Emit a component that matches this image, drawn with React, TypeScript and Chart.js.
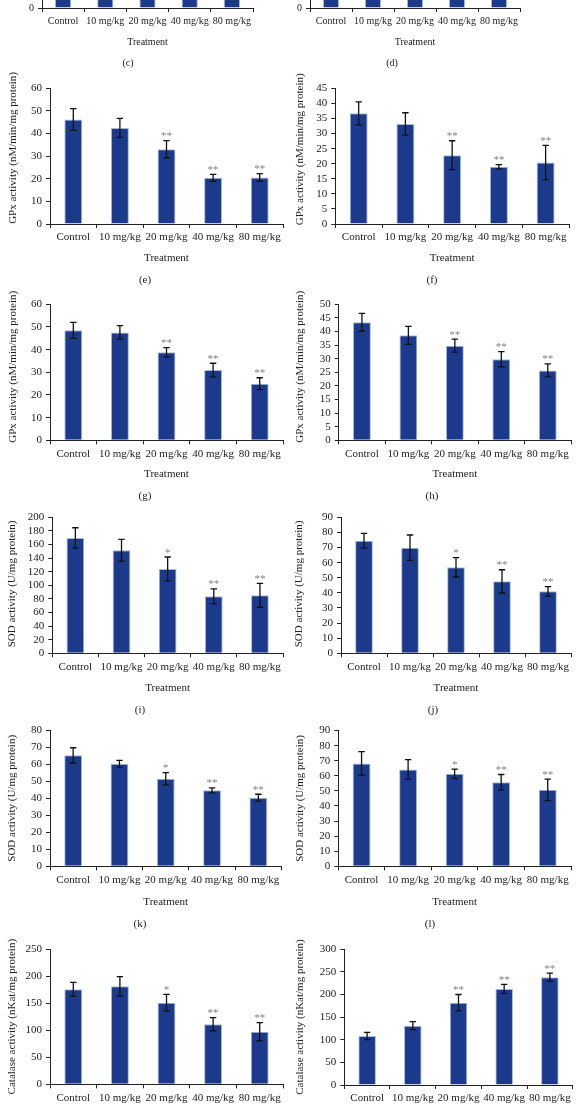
import React, { useEffect, useRef } from 'react';
import { Chart, registerables } from 'chart.js';

Chart.register(...registerables);

// ---------- data ----------
const categories = ['Control', '10 mg/kg', '20 mg/kg', '40 mg/kg', '80 mg/kg'];

// (c), (d): only the bottom stubs are visible in the reference
const cValues = [42, 40, 33, 26, 24];
const cErrors = [3, 3, 3, 2, 2];
const dValues = [38, 35, 30, 25, 22];
const dErrors = [3, 3, 3, 2, 2];

const eValues = [46.2, 42.5, 33.1, 20.4, 20.6];
const eErrors = [4.8, 4.2, 3.8, 1.5, 1.7];
const eStars = ['', '', '**', '**', '**'];

const fValues = [36.7, 33.2, 22.8, 19.0, 20.4];
const fErrors = [3.8, 3.7, 4.8, 0.7, 5.7];
const fStars = ['', '', '**', '**', '**'];

const gValues = [48.5, 47.6, 38.8, 31.0, 25.0];
const gErrors = [3.5, 3.0, 2.1, 3.0, 2.6];
const gStars = ['', '', '**', '**', '**'];

const hValues = [43.4, 38.6, 34.8, 29.8, 25.7];
const hErrors = [3.3, 3.3, 2.4, 2.8, 2.4];
const hStars = ['', '', '**', '**', '**'];

const iValues = [169.6, 151.5, 124.0, 83.8, 85.3];
const iErrors = [15, 16, 17.6, 10.8, 17.6];
const iStars = ['', '', '*', '**', '**'];

const jValues = [74.5, 69.9, 56.9, 47.6, 41.0];
const jErrors = [4.9, 8.4, 6.4, 7.7, 3.1];
const jStars = ['', '', '*', '**', '**'];

const kValues = [65.3, 60.4, 51.5, 44.7, 40.4];
const kErrors = [4.5, 2.0, 3.6, 1.5, 2.0];
const kStars = ['', '', '*', '**', '**'];

const lValues = [68.2, 64.2, 61.3, 55.8, 50.7];
const lErrors = [7.9, 6.6, 3.1, 5.1, 7.1];
const lStars = ['', '', '*', '**', '**'];

const mValues = [175.5, 181.1, 150.8, 110.9, 97.2];
const mErrors = [13, 17.8, 15.5, 12.2, 16.7];
const mStars = ['', '', '*', '**', '**'];

const nValues = [108.1, 130.8, 181.6, 212, 237.9];
const nErrors = [8, 8.8, 18, 10, 8.8];
const nStars = ['', '', '**', '**', '**'];

const noStars = ['', '', '', '', ''];

const GPX_LABEL = 'GPx activity (nM/min/mg protein)';
const SOD_LABEL = 'SOD activity (U/mg protein)';
const CAT_LABEL = 'Catalase activity (nKat/mg protein)';
const X_TITLE = 'Treatment';

// ---------- styles ----------
const FONT = "'Liberation Serif', 'Times New Roman', serif";
const FS = 11;
const INK = '#222222';
const BAR = '#1b3a8b';
const BAR_EDGE = '#a8b8dc';
const STAR = '#7f7f7f';

// ---------- panels (layout kept separate from values) ----------
// lift: number of non-breaking spaces used to nudge the rotated y title upward
const panels = [
  { id: 'c', values: cValues, errors: cErrors, stars: noStars, max: 50, step: 10, yTitle: '', fs: 10, lift: 0,
    L: { axisX: 42, xEnd: 253, topPx: -128, zeroPx: 8, labelX: 14, treatY: 42, subX: 128, subY: 63 } },
  { id: 'd', values: dValues, errors: dErrors, stars: noStars, max: 50, step: 10, yTitle: '', fs: 10, lift: 0,
    L: { axisX: 310, xEnd: 520, topPx: -128, zeroPx: 8, labelX: 282, treatY: 42, subX: 392, subY: 63 } },
  { id: 'e', values: eValues, errors: eErrors, stars: eStars, max: 60, step: 10, yTitle: GPX_LABEL, fs: FS, lift: 6,
    L: { axisX: 50, xEnd: 283, topPx: 88.3, zeroPx: 224, labelX: 14, treatY: 258, subX: 145, subY: 279 } },
  { id: 'f', values: fValues, errors: fErrors, stars: fStars, max: 45, step: 5, yTitle: GPX_LABEL, fs: FS, lift: 5,
    L: { axisX: 335.3, xEnd: 569, topPx: 88.3, zeroPx: 224, labelX: 301, treatY: 258, subX: 432, subY: 279 } },
  { id: 'g', values: gValues, errors: gErrors, stars: gStars, max: 60, step: 10, yTitle: GPX_LABEL, fs: FS, lift: 4,
    L: { axisX: 50, xEnd: 283, topPx: 304.3, zeroPx: 440.3, labelX: 13.5, treatY: 474.3, subX: 145, subY: 495 } },
  { id: 'h', values: hValues, errors: hErrors, stars: hStars, max: 50, step: 5, yTitle: GPX_LABEL, fs: FS, lift: 4,
    L: { axisX: 338.7, xEnd: 571, topPx: 304.3, zeroPx: 440.3, labelX: 301, treatY: 474.3, subX: 432, subY: 495 } },
  { id: 'i', values: iValues, errors: iErrors, stars: iStars, max: 200, step: 20, yTitle: SOD_LABEL, fs: FS, lift: 1,
    L: { axisX: 52.3, xEnd: 283, topPx: 517.3, zeroPx: 653.3, labelX: 12.3, treatY: 688.3, subX: 140, subY: 709 } },
  { id: 'j', values: jValues, errors: jErrors, stars: jStars, max: 90, step: 10, yTitle: SOD_LABEL, fs: FS, lift: 1,
    L: { axisX: 341, xEnd: 571, topPx: 517.3, zeroPx: 653.3, labelX: 299.5, treatY: 688.3, subX: 433, subY: 709 } },
  { id: 'k', values: kValues, errors: kErrors, stars: kStars, max: 80, step: 10, yTitle: SOD_LABEL, fs: FS, lift: 0,
    L: { axisX: 50, xEnd: 281.5, topPx: 730.4, zeroPx: 866.3, labelX: 12.3, treatY: 901.7, subX: 140, subY: 922.5 } },
  { id: 'l', values: lValues, errors: lErrors, stars: lStars, max: 90, step: 10, yTitle: SOD_LABEL, fs: FS, lift: 0,
    L: { axisX: 338.3, xEnd: 571, topPx: 730.6, zeroPx: 866.3, labelX: 301, treatY: 901.7, subX: 430, subY: 922.5 } },
  { id: 'm', values: mValues, errors: mErrors, stars: mStars, max: 250, step: 50, yTitle: CAT_LABEL, fs: FS, lift: 0,
    L: { axisX: 50, xEnd: 283, topPx: 949, zeroPx: 1084.3, labelX: 12.3, treatY: 1118, subX: 140, subY: 1140 } },
  { id: 'n', values: nValues, errors: nErrors, stars: nStars, max: 300, step: 50, yTitle: CAT_LABEL, fs: FS, lift: 0,
    L: { axisX: 344.3, xEnd: 572.7, topPx: 949, zeroPx: 1085, labelX: 301, treatY: 1118, subX: 432, subY: 1140 } },
];

// ---------- error bar + significance plugin ----------
const errorBarPlugin = {
  id: 'errorBars',
  afterDatasetsDraw(chart: any, _args: any, opts: any) {
    const { ctx } = chart;
    const ds = chart.data.datasets[0];
    const meta = chart.getDatasetMeta(0);
    const y = chart.scales.y;
    const errs: number[] = opts.errors || [];
    const stars: string[] = opts.stars || [];
    ctx.save();
    meta.data.forEach((bar: any, i: number) => {
      const v = ds.data[i] as number;
      const e = errs[i] || 0;
      const x = bar.x;
      const yt = y.getPixelForValue(v + e);
      const yb = y.getPixelForValue(v - e);
      ctx.strokeStyle = '#111111';
      ctx.lineWidth = 1.3;
      ctx.beginPath();
      ctx.moveTo(x, yt);
      ctx.lineTo(x, yb);
      ctx.moveTo(x - 3.2, yt);
      ctx.lineTo(x + 3.2, yt);
      ctx.moveTo(x - 3.2, yb);
      ctx.lineTo(x + 3.2, yb);
      ctx.stroke();
      if (stars[i]) {
        ctx.fillStyle = STAR;
        ctx.font = `${FS}px ${FONT}`;
        ctx.textAlign = 'center';
        ctx.textBaseline = 'alphabetic';
        ctx.fillText(stars[i], x, yt - 1.5);
      }
    });
    ctx.restore();
  },
};

function Panel({ spec }: { spec: any }) {
  const ref = useRef<HTMLCanvasElement | null>(null);
  const L = spec.L;
  const fs = spec.fs;
  const LH = fs * 1.2;
  const canvasLeft = Math.round(L.labelX - LH / 2);
  const canvasTop = Math.floor(L.topPx - 26);
  const padTop = L.topPx - canvasTop;
  const yW = L.axisX - canvasLeft;
  const xH = L.treatY + LH / 2 - L.zeroPx;
  const plotH = L.zeroPx - L.topPx;
  const width = Math.ceil(L.xEnd - canvasLeft + 4);
  const padRight = width - (L.xEnd - canvasLeft);
  const height = Math.ceil(padTop + plotH + xH);
  const padBottom = height - (padTop + plotH + xH);
  const yTitleText = '\u00A0'.repeat(spec.lift) + spec.yTitle;

  useEffect(() => {
    const tickFont = { family: FONT, size: fs };
    const chart = new Chart(ref.current as HTMLCanvasElement, {
      type: 'bar',
      data: {
        labels: categories,
        datasets: [
          {
            data: spec.values,
            backgroundColor: BAR,
            borderColor: BAR_EDGE,
            borderWidth: 1,
            barPercentage: 0.385,
            categoryPercentage: 1,
          },
        ],
      },
      options: {
        responsive: false,
        animation: false,
        devicePixelRatio: 1,
        layout: {
          autoPadding: false,
          padding: { top: padTop, right: padRight, bottom: padBottom, left: 0 },
        },
        plugins: {
          legend: { display: false },
          tooltip: { enabled: false },
          // @ts-ignore
          errorBars: { errors: spec.errors, stars: spec.stars },
        },
        scales: {
          x: {
            offset: true,
            grid: {
              display: true,
              drawOnChartArea: false,
              drawTicks: true,
              tickLength: 4,
              color: INK,
              offset: true,
            },
            border: { display: true, color: INK, width: 1 },
            ticks: {
              autoSkip: false,
              maxRotation: 0,
              minRotation: 0,
              padding: 3,
              color: INK,
              font: tickFont,
            },
            title: {
              display: true,
              text: X_TITLE,
              color: INK,
              font: tickFont,
              padding: 0,
            },
            afterFit: (s: any) => {
              s.height = xH;
            },
          },
          y: {
            min: 0,
            max: spec.max,
            grid: {
              display: true,
              drawOnChartArea: false,
              drawTicks: true,
              tickLength: 4,
              color: INK,
            },
            border: { display: true, color: INK, width: 1 },
            ticks: {
              stepSize: spec.step,
              autoSkip: false,
              maxTicksLimit: 100,
              padding: 4,
              color: INK,
              font: tickFont,
            },
            title: {
              display: !!spec.yTitle,
              text: yTitleText,
              color: INK,
              font: tickFont,
              padding: 0,
            },
            afterFit: (s: any) => {
              s.width = yW;
            },
          },
        },
      },
      plugins: [errorBarPlugin],
    } as any);
    return () => chart.destroy();
  }, []);

  return (
    <>
      <canvas
        ref={ref}
        width={width}
        height={height}
        style={{ position: 'absolute', left: canvasLeft, top: canvasTop, width, height, display: 'block' }}
      />
      <div
        style={{
          position: 'absolute',
          left: L.subX - 20,
          top: L.subY - 7,
          width: 40,
          height: 14,
          lineHeight: '14px',
          textAlign: 'center',
          fontFamily: FONT,
          fontSize: fs,
          color: INK,
          willChange: 'transform',
        }}
      >
        ({spec.id})
      </div>
    </>
  );
}

export default function App() {
  return (
    <div
      style={{
        position: 'absolute',
        left: 0,
        top: 0,
        width: 576,
        height: 1105,
        overflow: 'hidden',
        background: '#ffffff',
      }}
    >
      {panels.map((p) => (
        <Panel key={p.id} spec={p} />
      ))}
    </div>
  );
}
